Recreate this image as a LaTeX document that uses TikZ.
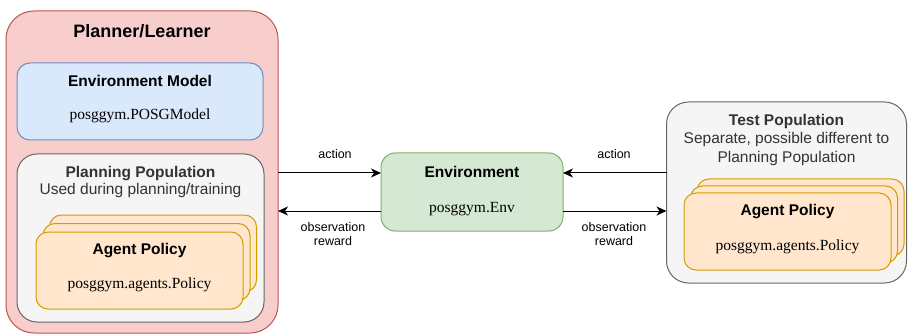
\documentclass[tikz,border=0pt]{standalone}
\usepackage{fontspec}
\setmainfont{Liberation Serif}
\setsansfont{Liberation Sans}
\usetikzlibrary{arrows.meta}
\definecolor{redfill}{HTML}{F8CECC}\definecolor{redline}{HTML}{B85450}
\definecolor{bluefill}{HTML}{DAE8FC}\definecolor{blueline}{HTML}{6C8EBF}
\definecolor{greyfill}{HTML}{F5F5F5}\definecolor{greyline}{HTML}{666666}
\definecolor{orangefill}{HTML}{FFE6CC}\definecolor{orangeline}{HTML}{D79B00}
\definecolor{greenfill}{HTML}{D5E8D4}\definecolor{greenline}{HTML}{82B366}
\definecolor{greytext}{HTML}{333333}
\begin{document}
\begin{tikzpicture}[x=1pt,y=-1pt,
  box/.style={line width=1pt, inner sep=0, outer sep=0},
  bigtitle/.style={font=\sffamily\bfseries\fontsize{18}{21}\selectfont, inner sep=0, text height=13pt, text depth=0pt},
  ttl/.style={font=\sffamily\bfseries\fontsize{15.5}{18}\selectfont, inner sep=0, text height=11pt, text depth=0pt},
  sub/.style={font=\sffamily\fontsize{15.5}{18}\selectfont, inner sep=0, text height=11pt, text depth=0pt},
  code/.style={font=\rmfamily\fontsize{15.5}{18}\selectfont, inner sep=0, text height=10pt, text depth=0pt},
  lbl/.style={font=\sffamily\fontsize{12.5}{15}\selectfont, inner sep=0, text height=9pt, text depth=0pt},
  arr/.style={line width=1pt, -{Stealth[length=10pt,width=9pt,inset=3pt]}},
  card/.style={box, draw=orangeline, fill=orangefill, rounded corners=12pt, minimum width=207pt, minimum height=77pt}
]
\useasboundingbox (0,0) rectangle (908,334);

% Planner/Learner
\node[box, draw=redline, fill=redfill, rounded corners=28pt, minimum width=272pt, minimum height=322pt] (planner) at (142,172) {};
\node[bigtitle] (plannert) at (142,31) {Planner/Learner};

% Environment model
\node[box, draw=blueline, fill=bluefill, rounded corners=13pt, minimum width=246pt, minimum height=77pt] (envmodel) at (140,101.5) {};
\node[ttl] (envmodelt) at (140,81) {Environment Model};
\node[code] (envmodelc) at (140,115) {posggym.POSGModel};

% Planning population
\node[box, draw=greyline, fill=greyfill, rounded corners=20pt, minimum width=247pt, minimum height=168pt] (planpop) at (140.5,238) {};
\node[ttl, text=greytext] (planpopt) at (140.5,172) {Planning Population};
\node[sub, text=greytext] (planpops) at (140.5,189) {Used during planning/training};

\node[card] (lapb) at (153,253.5) {};
\node[card] (lapm) at (146.5,262) {};
\node[card] (lap) at (139.5,270.5) {};
\node[ttl] (lapt) at (139.5,249) {Agent Policy};
\node[code] (lapc) at (139.5,283) {posggym.agents.Policy};

% Environment
\node[box, draw=greenline, fill=greenfill, rounded corners=14pt, minimum width=182pt, minimum height=78pt] (env) at (472,192) {};
\node[ttl] (envt) at (472,172) {Environment};
\node[code] (envc) at (472,207) {posggym.Env};

% Test population
\node[box, draw=greyline, fill=greyfill, rounded corners=22pt, minimum width=240pt, minimum height=181pt] (test) at (786.5,192.5) {};
\node[ttl, text=greytext] (testt) at (786.5,120) {Test Population};
\node[sub, text=greytext] (tests1) at (786.5,138) {Separate, possible different to};
\node[sub, text=greytext] (tests2) at (786.5,157) {Planning Population};

\node[card] (rapb) at (800.5,217.5) {};
\node[card] (rapm) at (794,224.5) {};
\node[card] (rap) at (787.5,231.5) {};
\node[ttl] (rapt) at (787.5,210) {Agent Policy};
\node[code] (rapc) at (787.5,245) {posggym.agents.Policy};

% Connectors
\draw[arr] (planner.east |- 0,173) -- (env.west |- 0,173);
\draw[arr] (env.west |- 0,211) -- (planner.east |- 0,211);
\draw[arr] (test.west |- 0,173) -- (env.east |- 0,173);
\draw[arr] (env.east |- 0,211) -- (test.west |- 0,211);

\node[lbl] (la1) at (335,154) {action};
\node[lbl] (lo1) at (333,227) {observation};
\node[lbl] (lr1) at (333,241) {reward};
\node[lbl] (la2) at (614,154) {action};
\node[lbl] (lo2) at (614,227) {observation};
\node[lbl] (lr2) at (614,241) {reward};
\end{tikzpicture}
\end{document}
